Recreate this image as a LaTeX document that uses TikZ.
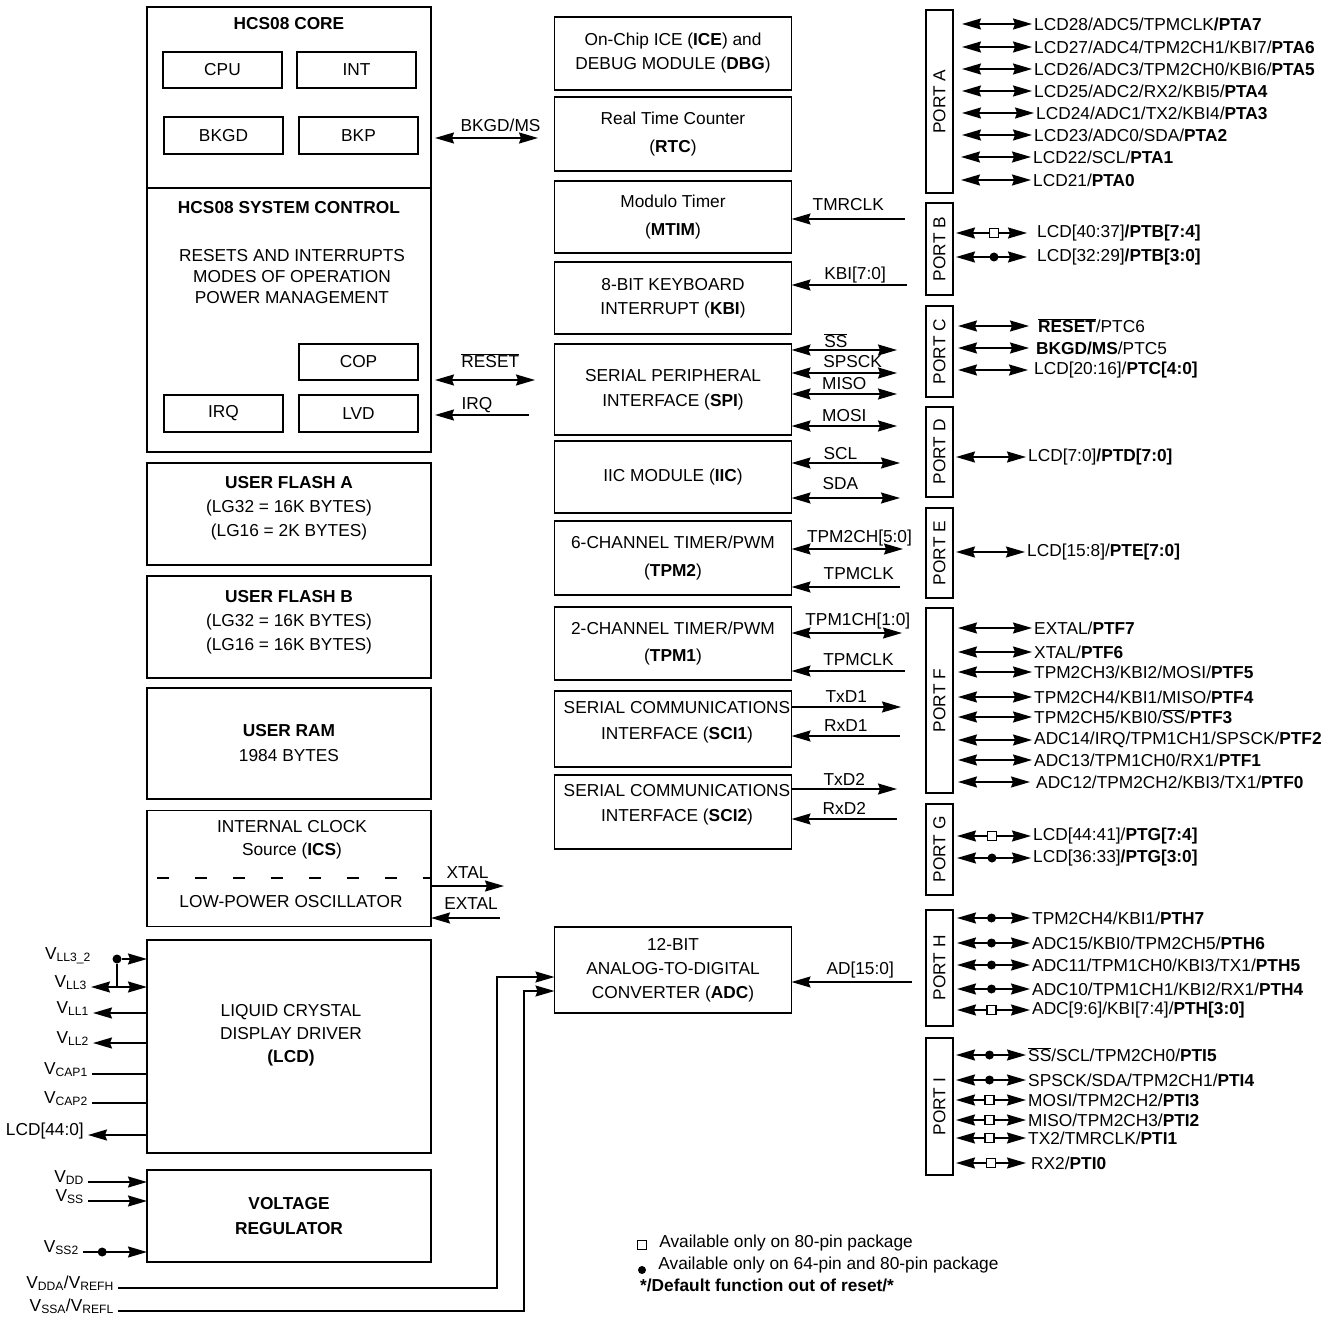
\documentclass[tikz,border=0pt]{standalone}
\usepackage{fontspec}
\setmainfont{Liberation Sans}
\usetikzlibrary{arrows.meta,positioning}

\newcommand{\ovl}[1]{$\overline{\mbox{#1}}$}

\tikzstyle{block} = [rectangle, draw, line width=1.6pt, align=center, 
inner sep=0pt, outer sep=0pt, minimum width=237, minimum height=73]
\tikzstyle{wide} = [block, minimum width=284]
\tikzstyle{small} = [block, minimum width=119, minimum height=36]
\tikzstyle{port} = [rectangle, draw, line width=1.6pt, rotate=90, 
inner sep=0pt, outer sep=0pt, minimum height=27]
\tikzstyle{txt} = [align=center, inner sep=0pt]
\tikzstyle{ptext} = [anchor=west, inner sep=2pt]
\tikzstyle{vlabel} = [anchor=base east, inner sep=4pt]
\tikzstyle{sig} = [midway, above=4pt, inner sep=1pt, text depth=0pt]
\tikzstyle{line} = [draw, line width=1.6pt, ->]
\tikzstyle{biline} = [draw, line width=1.6pt, <->]
\tikzstyle{wire} = [draw, line width=1.6pt]
\tikzstyle{sqmark} = [rectangle, draw, fill=white, line width=1.2pt, 
minimum size=9, inner sep=0pt]
\tikzstyle{dotmark} = [circle, fill=black, minimum size=9, inner sep=0pt]

\begin{document}
\begin{tikzpicture}[x=1pt, y=-1pt, font=\fontsize{17.3}{24}\selectfont,
	>={Stealth[length=19pt,width=11pt,inset=2pt]}]
	\useasboundingbox (0,0) rectangle (1336,1321);

	%Core and system control
	\node [wide, minimum height=181] (core) at (289,97.5) {};
	\node [wide, minimum height=264] (sysctl) at (289,320) {};
	\node [txt] (coret) at (289,24) {\textbf{HCS08 CORE}};
	\node [small] (cpu) at (222.5,70) {CPU};
	\node [small, right=15pt of cpu] (int) {INT};
	\node [small, minimum height=37] (bkgd) at (223.5,135.5) {BKGD};
	\node [small, minimum height=37, right=16pt of bkgd] (bkp) {BKP};
	\node [txt] (sysctlt) at (289,208) {\textbf{HCS08 SYSTEM CONTROL}};
	\node [txt] (modes) at (292,277) {RESETS AND INTERRUPTS\\[-3pt]MODES OF OPERATION\\[-3pt]POWER MANAGEMENT};
	\node [small, minimum height=37] (irq) at (223.5,413.5) {IRQ};
	\node [small, minimum height=37, right=16pt of irq] (lvd) {LVD};
	\node [small, above=15pt of lvd] (cop) {COP};

	%Memories
	\node [wide, minimum height=102] (flasha) at (289,514) {};
	\node [txt] (flashat) at (289,508) {\textbf{USER FLASH A}\\(LG32 = 16K BYTES)\\(LG16 = 2K BYTES)};
	\node [wide, minimum height=102] (flashb) at (289,627) {};
	\node [txt] (flashbt) at (289,622) {\textbf{USER FLASH B}\\(LG32 = 16K BYTES)\\(LG16 = 16K BYTES)};
	\node [wide, minimum height=111] (ram) at (289,743.5) {\textbf{USER RAM}\\[1pt]1984 BYTES};

	%Clock source
	\node [wide, minimum height=116] (ics) at (289,868.5) {};
	\node [txt] (icst) at (292,839.5) {INTERNAL CLOCK\\[-1pt]Source (\textbf{ICS})};
	\coordinate (icsdash) at (157,878);
	\draw [wire, dash pattern=on 12pt off 26pt] (icsdash) -- (icsdash -| ics.east);
	\node [txt] (osct) at (291,902) {LOW-POWER OSCILLATOR};

	%LCD and regulator
	\node [wide, minimum height=213] (lcd) at (289,1046.5) {};
	\node [txt] (lcdt) at (291,1035) {LIQUID CRYSTAL\\[-1pt]DISPLAY DRIVER\\[-1pt]\textbf{(LCD)}};
	\node [wide, minimum height=92] (vreg) at (289,1216) {\textbf{VOLTAGE}\\[1pt]\textbf{REGULATOR}};

	%Peripherals
	\node [block] (ice) at (673,53.5) {On-Chip ICE (\textbf{ICE}) and\\DEBUG MODULE (\textbf{DBG})};
	\node [block, minimum height=74, below=7pt of ice] (rtc) {Real Time Counter\\[4pt](\textbf{RTC})};
	\node [block, minimum height=72, below=10pt of rtc] (mtim) {Modulo Timer\\[4pt](\textbf{MTIM})};
	\node [block, minimum height=72, below=9pt of mtim] (kbi) {8-BIT KEYBOARD\\INTERRUPT (\textbf{KBI})};
	\node [block, minimum height=91, below=10pt of kbi] (spi) {SERIAL PERIPHERAL\\[1pt]INTERFACE (\textbf{SPI})};
	\node [block, minimum height=72, below=6pt of spi] (iic) {IIC MODULE (\textbf{IIC})};
	\node [block, minimum height=74, below=8pt of iic] (tpm2) {6-CHANNEL TIMER/PWM\\[4pt](\textbf{TPM2})};
	\node [block, below=12pt of tpm2] (tpm1) {2-CHANNEL TIMER/PWM\\[3pt](\textbf{TPM1})};
	\node [block, minimum height=76, below=11pt of tpm1] (sci1) {};
	\node [txt] (sci1t) at ([xshift=4pt,yshift=7pt]sci1.center) {SERIAL COMMUNICATIONS\\[2pt]INTERFACE (\textbf{SCI1})};
	\node [block, minimum height=74, below=8pt of sci1] (sci2) {};
	\node [txt] (sci2t) at ([xshift=4pt,yshift=7pt]sci2.center) {SERIAL COMMUNICATIONS\\[1pt]INTERFACE (\textbf{SCI2})};
	\node [block, minimum height=86] (adc) at (673,970) {12-BIT\\ANALOG-TO-DIGITAL\\CONVERTER (\textbf{ADC})};

	%Ports
	\node [port, minimum width=183] (portA) at (939.5,101.5) {PORT A};
	\node [port, minimum width=92] (portB) at (939.5,249) {PORT B};
	\node [port, minimum width=91] (portC) at (939.5,351.5) {PORT C};
	\node [port, minimum width=90] (portD) at (939.5,452) {PORT D};
	\node [port, minimum width=90] (portE) at (939.5,553) {PORT E};
	\node [port, minimum width=185] (portF) at (939.5,700.5) {PORT F};
	\node [port, minimum width=91] (portG) at (939.5,849.5) {PORT G};
	\node [port, minimum width=116] (portH) at (939.5,968) {PORT H};
	\node [port, minimum width=137] (portI) at (939.5,1106.5) {PORT I};

	%Port A pins
	\node [ptext] (pta7) at (1032,24) {LCD28/ADC5/TPMCLK\textbf{/PTA7}};
	\node [ptext] (pta6) at (1032,47) {LCD27/ADC4/TPM2CH1/KBI7/\textbf{PTA6}};
	\node [ptext] (pta5) at (1032,69) {LCD26/ADC3/TPM2CH0/KBI6/\textbf{PTA5}};
	\node [ptext] (pta4) at (1032,91) {LCD25/ADC2/RX2/KBI5/\textbf{PTA4}};
	\node [ptext] (pta3) at (1034,113) {LCD24/ADC1/TX2/KBI4/\textbf{PTA3}};
	\node [ptext] (pta2) at (1032,135) {LCD23/ADC0/SDA/\textbf{PTA2}};
	\node [ptext] (pta1) at (1031,157) {LCD22/SCL/\textbf{PTA1}};
	\node [ptext] (pta0) at (1031,180) {LCD21/\textbf{PTA0}};
	\draw [biline, shorten <=9pt] (portA.south |- pta7) -- (pta7);
	\draw [biline, shorten <=9pt] (portA.south |- pta6) -- (pta6);
	\draw [biline, shorten <=9pt] (portA.south |- pta5) -- (pta5);
	\draw [biline, shorten <=9pt] (portA.south |- pta4) -- (pta4);
	\draw [biline, shorten <=9pt] (portA.south |- pta3) -- (pta3);
	\draw [biline, shorten <=9pt] (portA.south |- pta2) -- (pta2);
	\draw [biline, shorten <=8pt] (portA.south |- pta1) -- (pta1);
	\draw [biline, shorten <=8pt] (portA.south |- pta0) -- (pta0);

	%Port B pins
	\node [ptext] (ptb74) at (1035,233) {LCD[40:37]\textbf{/PTB[7:4]}};
	\node [ptext] (ptb30) at (1035,257) {LCD[32:29]\textbf{/PTB[3:0]}};
	\draw [biline, shorten <=3pt, shorten >=8pt] (portB.south |- ptb74) -- node [sqmark, midway] {} (ptb74);
	\draw [biline, shorten <=3pt, shorten >=8pt] (portB.south |- ptb30) -- node [dotmark, midway] {} (ptb30);

	%Port C pins
	\node [ptext] (ptc6) at (1036,326) {\textbf{\ovl{RESET}}/PTC6};
	\node [ptext] (ptc5) at (1034,348) {\textbf{BKGD/MS}/PTC5};
	\node [ptext] (ptc40) at (1032,370) {LCD[20:16]/\textbf{PTC[4:0]}};
	\draw [biline, shorten <=5pt, shorten >=7pt] (portC.south |- ptc6) -- (ptc6);
	\draw [biline, shorten <=5pt, shorten >=5pt] (portC.south |- ptc5) -- (ptc5);
	\draw [biline, shorten <=5pt, shorten >=4pt] (portC.south |- ptc40) -- (ptc40);

	%Port D and E pins
	\node [ptext] (ptd) at (1026,457) {LCD[7:0]\textbf{/PTD[7:0]}};
	\draw [biline, shorten <=3pt] (portD.south |- ptd) -- (ptd);
	\node [ptext] (pte) at (1025,552) {LCD[15:8]/\textbf{PTE[7:0]}};
	\draw [biline, shorten <=3pt] (portE.south |- pte) -- (pte);

	%Port F pins
	\node [ptext] (ptf7) at (1032,628) {EXTAL/\textbf{PTF7}};
	\node [ptext] (ptf6) at (1032,652) {XTAL/\textbf{PTF6}};
	\node [ptext] (ptf5) at (1032,672) {TPM2CH3/KBI2/MOSI/\textbf{PTF5}};
	\node [ptext] (ptf4) at (1032,697) {TPM2CH4/KBI1/MISO/\textbf{PTF4}};
	\node [ptext] (ptf3) at (1032,717) {TPM2CH5/KBI0/\ovl{SS}/\textbf{PTF3}};
	\node [ptext] (ptf2) at (1032,740) {ADC14/IRQ/TPM1CH1/SPSCK/\textbf{PTF2}};
	\node [ptext] (ptf1) at (1032,760) {ADC13/TPM1CH0/RX1/\textbf{PTF1}};
	\node [ptext] (ptf0) at (1034,782) {ADC12/TPM2CH2/KBI3/TX1/\textbf{PTF0}};
	\draw [biline, shorten <=5pt] (portF.south |- ptf7) -- (ptf7);
	\draw [biline, shorten <=5pt] (portF.south |- ptf6) -- (ptf6);
	\draw [biline, shorten <=5pt] (portF.south |- ptf5) -- (ptf5);
	\draw [biline, shorten <=5pt] (portF.south |- ptf4) -- (ptf4);
	\draw [biline, shorten <=5pt] (portF.south |- ptf3) -- (ptf3);
	\draw [biline, shorten <=5pt] (portF.south |- ptf2) -- (ptf2);
	\draw [biline, shorten <=5pt] (portF.south |- ptf1) -- (ptf1);
	\draw [biline, shorten <=5pt, shorten >=4pt] (portF.south |- ptf0) -- (ptf0);

	%Port G pins
	\node [ptext] (ptg74) at (1031,836) {LCD[44:41]/\textbf{PTG[7:4]}};
	\node [ptext] (ptg30) at (1031,858) {LCD[36:33]\textbf{/PTG[3:0]}};
	\draw [biline, shorten <=4pt] (portG.south |- ptg74) -- node [sqmark, midway] {} (ptg74);
	\draw [biline, shorten <=4pt] (portG.south |- ptg30) -- node [dotmark, midway] {} (ptg30);

	%Port H pins
	\node [ptext] (pth7) at (1030,918) {TPM2CH4/KBI1/\textbf{PTH7}};
	\node [ptext] (pth6) at (1030,943) {ADC15/KBI0/TPM2CH5/\textbf{PTH6}};
	\node [ptext] (pth5) at (1030,965) {ADC11/TPM1CH0/KBI3/TX1/\textbf{PTH5}};
	\node [ptext] (pth4) at (1030,989) {ADC10/TPM1CH1/KBI2/RX1/\textbf{PTH4}};
	\node [ptext] (pth30) at (1030,1010) {ADC[9:6]/KBI[7:4]/\textbf{PTH[3:0]}};
	\draw [biline, shorten <=4pt] (portH.south |- pth7) -- node [dotmark, midway] {} (pth7);
	\draw [biline, shorten <=4pt] (portH.south |- pth6) -- node [dotmark, midway] {} (pth6);
	\draw [biline, shorten <=4pt] (portH.south |- pth5) -- node [dotmark, midway] {} (pth5);
	\draw [biline, shorten <=4pt] (portH.south |- pth4) -- node [dotmark, midway] {} (pth4);
	\draw [biline, shorten <=4pt] (portH.south |- pth30) -- node [sqmark, midway] {} (pth30);

	%Port I pins
	\node [ptext] (pti5) at (1026,1055) {\ovl{SS}/SCL/TPM2CH0/\textbf{PTI5}};
	\node [ptext] (pti4) at (1026,1080) {SPSCK/SDA/TPM2CH1/\textbf{PTI4}};
	\node [ptext] (pti3) at (1026,1100) {MOSI/TPM2CH2/\textbf{PTI3}};
	\node [ptext] (pti2) at (1026,1120) {MISO/TPM2CH3/\textbf{PTI2}};
	\node [ptext] (pti1) at (1026,1138) {TX2/TMRCLK/\textbf{PTI1}};
	\node [ptext] (pti0) at (1029,1163) {RX2/\textbf{PTI0}};
	\draw [biline, shorten <=3pt] (portI.south |- pti5) -- node [dotmark, midway] {} (pti5);
	\draw [biline, shorten <=3pt] (portI.south |- pti4) -- node [dotmark, midway] {} (pti4);
	\draw [biline, shorten <=3pt] (portI.south |- pti3) -- node [sqmark, midway] {} (pti3);
	\draw [biline, shorten <=3pt] (portI.south |- pti2) -- node [sqmark, midway] {} (pti2);
	\draw [biline, shorten <=3pt] (portI.south |- pti1) -- node [sqmark, midway] {} (pti1);
	\draw [biline, shorten <=3pt, shorten >=3pt] (portI.south |- pti0) -- node [sqmark, midway] {} (pti0);

	%Lines to core
	\coordinate (bkgdms) at (538,138);
	\draw [biline, shorten <=4pt] (bkgdms -| core.east) -- node [sig, above=5pt, pos=0.65] {BKGD/MS} (bkgdms);
	\coordinate (rstout) at (535,380);
	\draw [biline, shorten <=4pt] (rstout -| sysctl.east) -- node [sig, above=11pt, pos=0.57] {\ovl{RESET}} (rstout);
	\coordinate (irqin) at (529,415);
	\draw [line, shorten >=4pt] (irqin) -- node [sig, pos=0.53] {IRQ} (irqin -| sysctl.east);
	\coordinate (xtal) at (504,886);
	\draw [line] (xtal -| ics.east) -- node [sig, above=6pt] {XTAL} (xtal);
	\coordinate (extal) at (500,918);
	\draw [line] (extal) -- node [sig, above=7pt, pos=0.42] {EXTAL} (extal -| ics.east);

	%Lines to peripherals
	\coordinate (tmrclk) at (905,219);
	\draw [line] (tmrclk) -- node [sig, above=7pt] {TMRCLK} (tmrclk -| mtim.east);
	\coordinate (kbiin) at (907,285);
	\draw [line] (kbiin) -- node [sig, pos=0.45] {KBI[7:0]} (kbiin -| kbi.east);
	\coordinate (ss) at (897,350);
	\draw [biline] (ss -| spi.east) -- node [sig, above=1pt, pos=0.42] {\ovl{SS}} (ss);
	\coordinate (spsck) at (897,373);
	\draw [biline] (spsck -| spi.east) -- node [sig, pos=0.58] {SPSCK} (spsck);
	\coordinate (miso) at (897,394);
	\draw [biline] (miso -| spi.east) -- node [sig, above=3pt] {MISO} (miso);
	\coordinate (mosi) at (897,426);
	\draw [biline] (mosi -| spi.east) -- node [sig, above=3pt] {MOSI} (mosi);
	\coordinate (scl) at (900,463);
	\draw [biline] (scl -| iic.east) -- node [sig, above=2pt, pos=0.45] {SCL} (scl);
	\coordinate (sda) at (900,498);
	\draw [biline] (sda -| iic.east) -- node [sig, above=7pt, pos=0.45] {SDA} (sda);
	\coordinate (tpm2ch) at (903,549);
	\draw [biline] (tpm2ch -| tpm2.east) -- node [sig, above=5pt, pos=0.61] {TPM2CH[5:0]} (tpm2ch);
	\coordinate (tpm2clk) at (900,587);
	\draw [line] (tpm2clk) -- node [sig, above=6pt, pos=0.38] {TPMCLK} (tpm2clk -| tpm2.east);
	\coordinate (tpm1ch) at (902,633);
	\draw [biline] (tpm1ch -| tpm1.east) -- node [sig, above=6pt, pos=0.6] {TPM1CH[1:0]} (tpm1ch);
	\coordinate (tpm1clk) at (905,671);
	\draw [line] (tpm1clk) -- node [sig, pos=0.41] {TPMCLK} (tpm1clk -| tpm1.east);
	\coordinate (txd1) at (901,707);
	\draw [line] (txd1 -| sci1.east) -- node [sig, above=3pt] {TxD1} (txd1);
	\coordinate (rxd1) at (900,736);
	\draw [line] (rxd1) -- node [sig, above=3pt] {RxD1} (rxd1 -| sci1.east);
	\coordinate (txd2) at (897,789);
	\draw [line] (txd2 -| sci2.east) -- node [sig, above=2pt] {TxD2} (txd2);
	\coordinate (rxd2) at (897,819);
	\draw [line] (rxd2) -- node [sig, above=3pt] {RxD2} (rxd2 -| sci2.east);
	\coordinate (adin) at (912,982);
	\draw [line] (adin) -- node [sig, above=6pt, pos=0.43] {AD[15:0]} (adin -| adc.east);

	%LCD pins
	\node [vlabel] (vll32) at (95,959) {V\textsubscript{LL3\_2}};
	\node [dotmark] (vdot) at (117,959) {};
	\node [vlabel] (vll3) at (91,987) {V\textsubscript{LL3}};
	\node [vlabel] (vll1) at (93,1013) {V\textsubscript{LL1}};
	\node [vlabel] (vll2) at (93,1043) {V\textsubscript{LL2}};
	\node [vlabel] (vcap1) at (92,1074) {V\textsubscript{CAP1}};
	\node [vlabel] (vcap2) at (92,1103) {V\textsubscript{CAP2}};
	\node [vlabel] (lcdout) at (88,1135) {LCD[44:0]};
	\draw [line] (vdot) -- (vdot -| lcd.west);
	\draw [wire] (vdot) -- (vdot |- vll3.base east);
	\draw [biline] (vll3.base east) -- (vll3.base east -| lcd.west);
	\draw [line] (vll1.base east -| lcd.west) -- (vll1.base east);
	\draw [line] (vll2.base east -| lcd.west) -- (vll2.base east);
	\draw [wire] (vcap1.base east) -- (vcap1.base east -| lcd.west);
	\draw [wire] (vcap2.base east) -- (vcap2.base east -| lcd.west);
	\draw [line] (lcdout.base east -| lcd.west) -- (lcdout.base east);

	%Supply pins
	\node [vlabel] (vdd) at (88,1182) {V\textsubscript{DD}};
	\node [vlabel] (vss) at (88,1201) {V\textsubscript{SS}};
	\node [vlabel] (vss2) at (83,1252) {V\textsubscript{SS2}};
	\draw [line] (vdd.base east) -- (vdd.base east -| vreg.west);
	\draw [line] (vss.base east) -- (vss.base east -| vreg.west);
	\draw [line] (vss2.base east) -- node [dotmark, pos=0.3] {} (vss2.base east -| vreg.west);
	\node [vlabel] (vdda) at (118,1288) {V\textsubscript{DDA}/V\textsubscript{REFH}};
	\node [vlabel] (vssa) at (118,1311) {V\textsubscript{SSA}/V\textsubscript{REFL}};
	\coordinate (vddabend) at (497,977);
	\coordinate (vssabend) at (524,991);
	\draw [line] (vdda.base east) -| (vddabend) -- (vddabend -| adc.west);
	\draw [line] (vssa.base east) -| (vssabend) -- (vssabend -| adc.west);

	%Legend
	\node [sqmark] (legsq) at (642,1245) {};
	\node [txt, right=12pt of legsq, yshift=2pt] (legsqt) {Available only on 80-pin package};
	\node [dotmark, minimum size=8] (legdot) at (642,1270) {};
	\node [txt, right=12pt of legdot, yshift=5pt] (legdott) {Available only on 64-pin and 80-pin package};
	\node [txt, anchor=west] (legdef) at (640,1285) {\textbf{*/Default function out of reset/*}};

\end{tikzpicture}
\end{document}
